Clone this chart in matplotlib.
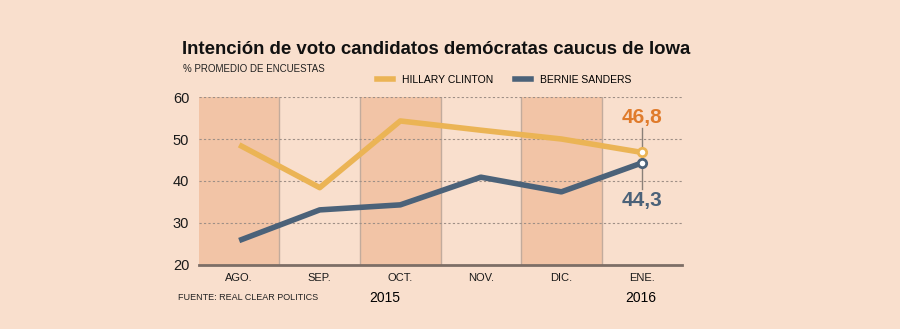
import matplotlib.pyplot as plt
from matplotlib.lines import Line2D

months = ['AGO.', 'SEP.', 'OCT.', 'NOV.', 'DIC.', 'ENE.']
clinton = [48.6, 38.4, 54.3, 52.1, 50.0, 46.8]
sanders = [25.8, 33.1, 34.3, 40.9, 37.4, 44.3]
yticks = [20, 30, 40, 50, 60]

bg = '#f9dfcd'
shade = '#f2c4a6'
c_clinton = '#ebb455'
c_sanders = '#4b6279'
c_label = '#e07b2b'
narrow = ['Liberation Sans Narrow', 'Liberation Sans', 'DejaVu Sans']

fig = plt.figure(figsize=(9, 3.29), dpi=100, facecolor=bg)
ax = fig.add_axes([0.221, 0.195, 0.537, 0.51])
ax.set_facecolor(bg)

x = list(range(len(months)))
ax.set_xlim(-0.5, len(months) - 0.5)
ax.set_ylim(20, 60)

# alternate shaded month columns
for i in x:
    if i % 2 == 0:
        ax.axvspan(i - 0.5, i + 0.5, color=shade, lw=0, zorder=0)
    if i > 0:
        ax.axvline(i - 0.5, color='#c2ab9c', lw=1, zorder=1)

for y in yticks[1:]:
    ax.axhline(y, color='#9e8f86', lw=0.8, ls=(0, (2, 2)), zorder=1)

ax.plot(x, clinton, color=c_clinton, lw=4, solid_capstyle='butt', zorder=3)
ax.plot(x, sanders, color=c_sanders, lw=4, solid_capstyle='butt', zorder=3)
ax.plot(x[-1], clinton[-1], 'o', ms=6, mfc='white', mec=c_clinton, mew=2, zorder=5)
ax.plot(x[-1], sanders[-1], 'o', ms=6, mfc='white', mec=c_sanders, mew=2, zorder=5)

# value callouts for the last month
ax.plot([x[-1], x[-1]], [clinton[-1] + 0.8, 52.6], color='#8a8078', lw=1, zorder=2)
ax.plot([x[-1], x[-1]], [sanders[-1] - 0.8, 38.0], color='#8a8078', lw=1, zorder=2)
ax.text(x[-1], 52.9, f'{clinton[-1]:.1f}'.replace('.', ','), color=c_label,
        fontsize=15, fontweight='bold', ha='center', va='bottom', family=narrow)
ax.text(x[-1], 37.5, f'{sanders[-1]:.1f}'.replace('.', ','), color=c_sanders,
        fontsize=15, fontweight='bold', ha='center', va='top', family=narrow)

for s in ['top', 'right', 'left']:
    ax.spines[s].set_visible(False)
ax.spines['bottom'].set_color('#7d6e66')
ax.spines['bottom'].set_linewidth(2)

ax.set_xticks(x)
ax.set_xticklabels(months, family=narrow, fontsize=8)
ax.set_yticks(yticks)
ax.set_yticklabels([str(v) for v in yticks], family=narrow, fontsize=10.5)
ax.tick_params(length=0, pad=6, colors='#1a1a1a')
ax.tick_params(axis='y', pad=7)

fig.text(0.202, 0.825, 'Intención de voto candidatos demócratas caucus de Iowa',
         fontsize=13.4, fontweight='bold', family=narrow,
         color='#111111', va='bottom')
fig.text(0.203, 0.79, '% PROMEDIO DE ENCUESTAS', fontsize=7, family=narrow,
         color='#222222', va='center')

handles = [Line2D([], [], color=c_clinton, lw=4), Line2D([], [], color=c_sanders, lw=4)]
fig.legend(handles, ['HILLARY CLINTON', 'BERNIE SANDERS'], loc='center left',
           bbox_to_anchor=(0.408, 0.757), ncol=2, frameon=False, handlelength=1.6,
           handletextpad=0.8, columnspacing=2.1, prop={'family': narrow, 'size': 7.5})

fig.text(0.198, 0.095, 'FUENTE: REAL CLEAR POLITICS', fontsize=6.5, family=narrow,
         color='#222222', va='center')
fig.text(0.428, 0.095, '2015', fontsize=10, family=narrow, ha='center', va='center')
fig.text(0.712, 0.095, '2016', fontsize=10, family=narrow, ha='center', va='center')

fig.savefig('out.png', dpi=100, facecolor=bg)
